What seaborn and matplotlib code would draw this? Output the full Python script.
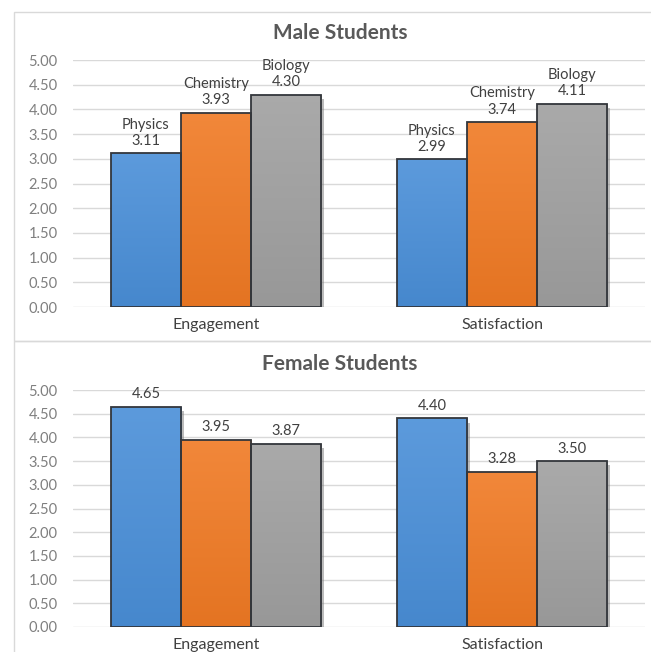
import numpy as np
import pandas as pd
import matplotlib
matplotlib.use("Agg")
import matplotlib.pyplot as plt
import matplotlib.patheffects as pe
from matplotlib.patches import Rectangle
from matplotlib.colors import to_rgb
import seaborn as sns

# Survey results (mean scores, 0-5 scale)
measures = ["Engagement", "Satisfaction"]
subjects = ["Physics", "Chemistry", "Biology"]
male_engagement = [3.11, 3.93, 4.30]
male_satisfaction = [2.99, 3.74, 4.11]
female_engagement = [4.65, 3.95, 3.87]
female_satisfaction = [4.40, 3.28, 3.50]
y_ticks = [0.0, 0.5, 1.0, 1.5, 2.0, 2.5, 3.0, 3.5, 4.0, 4.5, 5.0]

subject_colors = {"Physics": "#4a8fd8", "Chemistry": "#f07a24", "Biology": "#a0a0a0"}

sns.set_theme(style="white")
plt.rcParams["font.family"] = ["Lato", "DejaVu Sans"]

W, H = 651, 652
fig = plt.figure(figsize=(W / 100, H / 100), dpi=100)
fig.patch.set_facecolor("white")

# Panel frames
frame_color = "#d9d9d9"
fig.add_artist(Rectangle((14 / W, 1 - 341 / H), 700 / W, 329 / H, transform=fig.transFigure,
                         fill=False, edgecolor=frame_color, linewidth=1.0))
fig.add_artist(Rectangle((14 / W, 1 - 700 / H), 700 / W, 359 / H, transform=fig.transFigure,
                         fill=False, edgecolor=frame_color, linewidth=1.0))


def make_frame(values_a, values_b):
    rows = []
    for m, vals in zip(measures, [values_a, values_b]):
        for s, v in zip(subjects, vals):
            rows.append({"measure": m, "subject": s, "value": v})
    return pd.DataFrame(rows)


def shade(color, factor):
    r, g, b = to_rgb(color)
    if factor >= 1:
        return tuple(c + (1 - c) * (factor - 1) for c in (r, g, b))
    return tuple(c * factor for c in (r, g, b))


def style_bar(ax, bar, color):
    """Vertical gradient fill, soft drop shadow and a dark outline for one bar."""
    z = bar.get_zorder()
    bar.set_facecolor(color)
    bar.set_edgecolor("none")
    bar.set_path_effects([pe.SimplePatchShadow(offset=(2, -3), shadow_rgbFace="#7a7a7a",
                                               alpha=0.5), pe.Normal()])
    x0, y0 = bar.get_x(), bar.get_y()
    w, h = bar.get_width(), bar.get_height()
    top = np.array(shade(color, 1.10))
    bottom = np.array(shade(color, 0.95))
    t = np.linspace(0, 1, 64)[:, None]
    grad = np.repeat((bottom * (1 - t) + top * t)[:, None, :], 2, axis=1)
    im = ax.imshow(grad, extent=(x0, x0 + w, y0, y0 + h), origin="lower",
                   aspect="auto", zorder=z + 0.01, interpolation="bicubic")
    im.set_clip_path(bar)
    outline = Rectangle((x0, y0), w, h, fill=False, edgecolor="#33363b",
                        linewidth=1.3, zorder=z + 0.02)
    ax.add_patch(outline)


def draw_panel(rect, title, title_y, values_a, values_b, with_names):
    ax = fig.add_axes(rect)
    df = make_frame(values_a, values_b)
    sns.barplot(data=df, x="measure", y="value", hue="subject", hue_order=subjects,
                order=measures, palette=subject_colors, width=0.735, ax=ax,
                legend=False, errorbar=None, saturation=1)
    ax.set_ylim(0, 5)
    ax.set_xlim(-0.5, 1.5)
    ax.set_yticks(y_ticks)
    ax.set_yticklabels([f"{v:.2f}" for v in y_ticks])
    ax.yaxis.grid(True, color="#d9d9d9", linewidth=1.0)
    ax.set_axisbelow(True)
    for sp in ax.spines.values():
        sp.set_visible(False)
    ax.tick_params(axis="y", length=0, pad=11, labelsize=10.5, labelcolor="#7f7f7f")
    ax.tick_params(axis="x", length=0, pad=8, labelsize=11.5, labelcolor="#404040")
    ax.set_xlabel("")
    ax.set_ylabel("")

    for subj, container in zip(subjects, ax.containers):
        for bar in container:
            style_bar(ax, bar, subject_colors[subj])
        if with_names:
            labels = [f"{subj}\n{bar.get_height():.2f}" for bar in container]
        else:
            labels = [f"{bar.get_height():.2f}" for bar in container]
        ax.bar_label(container, labels=labels, padding=4, fontsize=10.5, color="#404040",
                     linespacing=1.2)

    fig.text(340 / W, 1 - title_y / H, title, ha="center", va="center",
             fontsize=15, fontweight="bold", color="#595959")
    return ax


draw_panel([73 / W, 1 - 307 / H, 572 / W, 247 / H], "Male Students", 33,
           male_engagement, male_satisfaction, True)
draw_panel([73 / W, 1 - 627 / H, 572 / W, 237 / H], "Female Students", 364,
           female_engagement, female_satisfaction, False)

fig.savefig("out.png", dpi=100, facecolor="white")
